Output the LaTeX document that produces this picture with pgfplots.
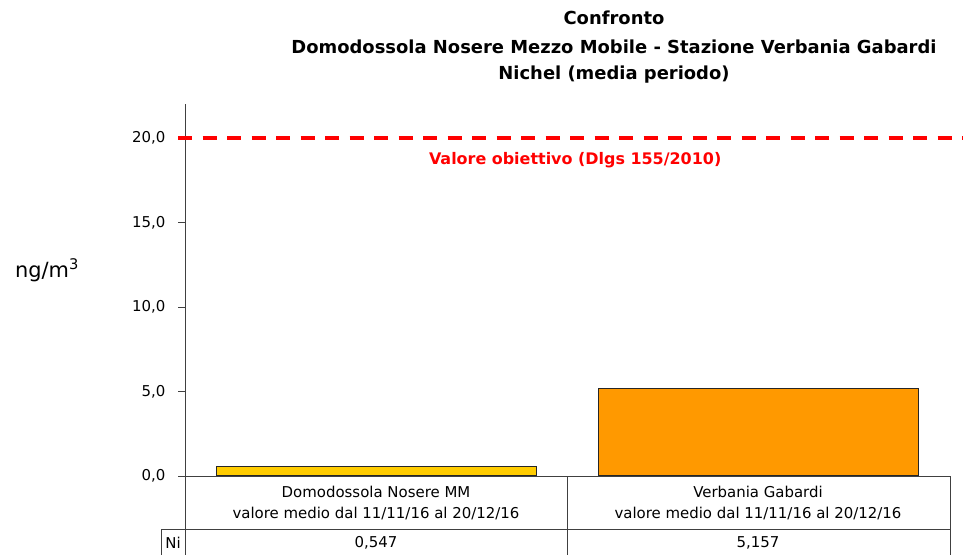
\documentclass[border=0pt]{standalone}
\usepackage{pgfplots}
\pgfplotsset{compat=1.18}
\usepackage{fontspec}
\setmainfont{DejaVu Sans}
\definecolor{barYellow}{HTML}{FFCC00}
\definecolor{barOrange}{HTML}{FF9900}
\definecolor{axisgray}{HTML}{404040}
\newcommand{\tfont}{\fontsize{15}{18}\selectfont}

\begin{document}
\begin{tikzpicture}
\useasboundingbox (0,0) rectangle (963bp,-555bp);

% title
\node[font=\bfseries\fontsize{18}{21}\selectfont] at (614bp,-18bp) {Confronto};
\node[font=\bfseries\fontsize{18}{21}\selectfont] at (614bp,-47bp) {Domodossola Nosere Mezzo Mobile - Stazione Verbania Gabardi};
\node[font=\bfseries\fontsize{18}{21}\selectfont] at (614bp,-75bp) {Nichel (media periodo)};

% unit label
\node[font=\fontsize{21}{24}\selectfont] at (47bp,-270bp) {ng/m\textsuperscript{3}};

\begin{axis}[
  at={(185bp,-476bp)}, anchor=south west,
  scale only axis, width=765bp, height=372bp,
  xmin=-0.5, xmax=1.5, ymin=0, ymax=22,
  axis x line*=bottom, axis y line*=left,
  xtick=\empty, ytick={0,5,10,15,20},
  tick align=outside, major tick length=7bp,
  tick style={axisgray, line width=0.8bp},
  axis line style={axisgray, line width=0.8bp},
  yticklabel style={font=\tfont, xshift=-9bp, /pgf/number format/.cd, fixed, fixed zerofill, precision=1, use comma, assume math mode=true},
  clip=false,
]
  % target value line
  \addplot[red, line width=3.8bp, dash pattern=on 14bp off 10.5bp] coordinates {(-0.518,20) (1.534,20)};
  \node[red, font=\bfseries\fontsize{16}{19}\selectfont] at (axis cs:0.52,18.7) {Valore obiettivo (Dlgs 155/2010)};

  % mean concentrations
  \addplot[ybar, bar width=0.8366, bar shift=0pt, fill=barYellow, draw=black!85, line width=1.2bp] coordinates {(0,0.547)};
  \addplot[ybar, bar width=0.8366, bar shift=0pt, fill=barOrange, draw=black!85, line width=1.2bp] coordinates {(1,5.157)};
\end{axis}

% data table under the axis
\begin{scope}[axisgray, line width=0.8bp]
  \draw (185bp,-476bp) -- (185bp,-560bp);
  \draw (567bp,-476bp) -- (567bp,-560bp);
  \draw (950bp,-476bp) -- (950bp,-560bp);
  \draw (185bp,-476bp) -- (950bp,-476bp);
  \draw (161bp,-529bp) -- (950bp,-529bp);
  \draw (161bp,-529bp) -- (161bp,-560bp);
\end{scope}
\node[font=\tfont] at (376bp,-492bp) {Domodossola Nosere MM};
\node[font=\tfont] at (376bp,-514bp) {valore medio dal 11/11/16 al 20/12/16};
\node[font=\tfont] at (758bp,-492bp) {Verbania Gabardi};
\node[font=\tfont] at (758bp,-514bp) {valore medio dal 11/11/16 al 20/12/16};
\node[font=\tfont] at (173bp,-543bp) {Ni};
\node[font=\tfont] at (376bp,-543bp) {0,547};
\node[font=\tfont] at (758bp,-543bp) {5,157};
\end{tikzpicture}
\end{document}
